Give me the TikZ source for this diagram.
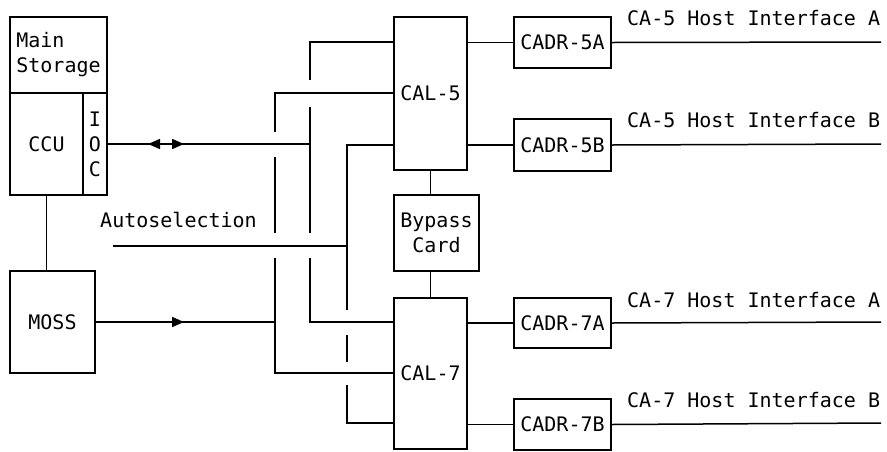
\documentclass[tikz,border=0pt]{standalone}
\usepackage{fontspec}
\newfontfamily\monofnt{DejaVu Sans Mono}
\usetikzlibrary{arrows.meta}
\begin{document}
\begin{tikzpicture}[x=1pt,y=-1pt,
  every node/.style={font=\monofnt\fontsize{20}{25}\selectfont, inner sep=0pt},
  blk/.style={draw, line width=1.5pt, rectangle},
  wire/.style={line width=1.5pt},
  lbl/.style={anchor=base west},
  tiparrow/.style={line width=1.5pt, -{Triangle[length=12pt,width=10pt]}}
]
\useasboundingbox (0,0) rectangle (887,451);

% left blocks
\node[blk, minimum width=97pt, minimum height=76pt, align=left] (ms) at (58.5,55) {Main\\Storage};
\node[blk, minimum width=73pt, minimum height=102pt] (ccu) at (46.5,144) {CCU};
\node[blk, minimum width=24pt, minimum height=102pt, align=center] (ioc) at (95,144) {I\\O\\C};
\node[blk, minimum width=85pt, minimum height=102pt] (moss) at (52.5,322) {MOSS};

% CAL blocks and bypass
\node[blk, minimum width=73pt, minimum height=153pt] (cal5) at (430.5,93.5) {CAL-5};
\node[blk, minimum width=73pt, minimum height=151pt] (cal7) at (430.5,373.5) {CAL-7};
\node[blk, minimum width=85pt, minimum height=76pt, align=center] (byp) at (436.5,233) {Bypass\\Card};

% CADR blocks
\node[blk, minimum width=97pt, minimum height=51pt] (c5a) at (562.5,42.5) {CADR-5A};
\node[blk, minimum width=97pt, minimum height=52pt] (c5b) at (562.5,145) {CADR-5B};
\node[blk, minimum width=97pt, minimum height=50pt] (c7a) at (562.5,323) {CADR-7A};
\node[blk, minimum width=97pt, minimum height=51pt] (c7b) at (562.5,424.5) {CADR-7B};

% labels
\node (auto) at (178.5,220) {Autoselection};
\node[lbl] (h5a) at (627,25) {CA-5 Host Interface A};
\node[lbl] (h5b) at (627,127) {CA-5 Host Interface B};
\node[lbl] (h7a) at (627,307) {CA-7 Host Interface A};
\node[lbl] (h7b) at (627,407) {CA-7 Host Interface B};

% bus coordinates
\coordinate (a1) at (310,42);
\coordinate (a2) at (310,322);
\coordinate (aj) at (310,144);
\coordinate (b1) at (275,93);
\coordinate (b2) at (275,373);
\coordinate (bj) at (275,322);
\coordinate (c1) at (347,145);
\coordinate (c2) at (347,423);
\coordinate (cj) at (347,246);
\coordinate (as) at (113,246);
\coordinate (e5a) at (881,42);
\coordinate (e5b) at (881,144);
\coordinate (e7a) at (881,322);
\coordinate (e7b) at (881,423);
% arrow tip points
\coordinate (tl) at (148,144);
\coordinate (tr) at (184,144);
\coordinate (tm) at (184,322);

% bus A (x=310)
\draw[wire] (cal5.west |- a1) -- (a1) -- (310,80);
\draw[wire] (310,107) -- (310,233);
\draw[wire] (310,258) -- (a2) -- (cal7.west |- a2);
% bus B (x=275)
\draw[wire] (cal5.west |- b1) -- (b1) -- (275,132);
\draw[wire] (275,157) -- (275,233);
\draw[wire] (275,258) -- (b2) -- (cal7.west |- b2);
% bus C (x=347)
\draw[wire] (cal5.west |- c1) -- (c1) -- (347,310);
\draw[wire] (347,335) -- (347,362);
\draw[wire] (347,385) -- (c2) -- (cal7.west |- c2);

% feeds
\draw[wire] (ioc.east |- aj) -- (aj);
\draw[tiparrow] ([xshift=12pt]tl) -- (tl);
\draw[tiparrow] ([xshift=-12pt]tr) -- (tr);
\draw[wire] (moss.east |- bj) -- (bj);
\draw[tiparrow] ([xshift=-12pt]tm) -- (tm);
\draw[wire] (as) -- (cj);
\draw[wire] (ccu.south) -- (ccu.south |- moss.north);

% bypass
\draw[wire] (cal5.south) -- (cal5.south |- byp.north);
\draw[wire] (cal5.south |- byp.south) -- (cal7.north);

% right side
\draw[wire] (cal5.east |- c5a) -- (c5a.west);
\draw[wire] (cal5.east |- c5b) -- (c5b.west);
\draw[wire] (cal7.east |- c7a) -- (c7a.west);
\draw[wire] (cal7.east |- c7b) -- (c7b.west);
\draw[wire] (c5a.east) -- (e5a);
\draw[wire] (c5b.east) -- (e5b);
\draw[wire] (c7a.east) -- (e7a);
\draw[wire] (c7b.east) -- (e7b);
\end{tikzpicture}
\end{document}
